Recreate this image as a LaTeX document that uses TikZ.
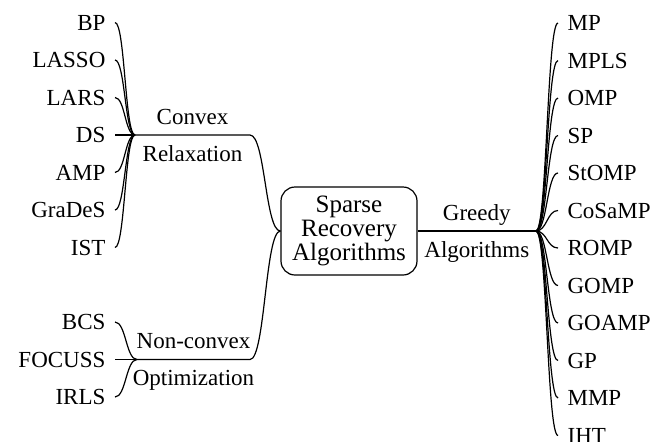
\documentclass[tikz,border=0pt]{standalone}
\usepackage{fontspec}
\setmainfont{Liberation Serif}
\usetikzlibrary{calc,positioning}

\tikzset{
  leaf/.style={inner xsep=4.5pt, inner ysep=0pt, text height=7.6pt, text depth=0pt,
    font=\fontsize{11.5}{13}\selectfont},
  branch/.style={inner sep=0pt, text height=7.8pt, text depth=0pt,
    font=\fontsize{11.5}{13}\selectfont},
  rootbox/.style={draw, rounded corners=7pt, minimum width=68pt, minimum height=44pt,
    align=center, inner sep=0pt, font=\fontsize{12.5}{11.8}\selectfont},
  hcurve/.style={to path={let \p1=(\tikztostart), \p2=(\tikztotarget) in
    .. controls ({(\x1+\x2)/2},\y1) and ({(\x1+\x2)/2},\y2) .. (\tikztotarget)}}
}

\begin{document}
\begin{tikzpicture}[x=0.5pt, y=-0.5pt, line width=0.6pt]
        \useasboundingbox (0,0) rectangle (665,441);
        %root
        \node[rootbox] (root) at (349,231) {Sparse\\Recovery\\Algorithms};
        \coordinate (cvx) at (135,135);
        \coordinate (cvxend) at (250,135);
        \coordinate (ncv) at (137,359.5);
        \coordinate (ncvend) at (250,359.5);
        \coordinate (grd) at (536,231);
        %convex relaxation
        \foreach \name [count=\i] in {BP,LASSO,LARS,DS,AMP,GraDeS,IST}
            \node[leaf, anchor=east] (cv\i) at (115,{22.5+37.5*(\i-1)}) {\name};
        \foreach \i in {1,...,7}
            \draw (cv\i.east) to[hcurve] (cvx);
        \draw (cvx) -- node[branch, above=5pt] {Convex} node[branch, below=5pt] {Relaxation} (cvxend)
            to[hcurve] (root.west);
        %non-convex optimization
        \foreach \name [count=\i] in {BCS,FOCUSS,IRLS}
            \node[leaf, anchor=east] (nc\i) at (115,{322+37.5*(\i-1)}) {\name};
        \foreach \i in {1,...,3}
            \draw (nc\i.east) to[hcurve] (ncv);
        \draw (ncv) -- node[branch, above=5pt] {Non-convex} node[branch, below=5pt] {Optimization} (ncvend)
            to[hcurve] (root.west);
        %greedy algorithms
        \draw (root.east) -- node[branch, above=5pt] {Greedy} node[branch, below=5pt] {Algorithms} (grd);
        \foreach \name [count=\i] in {MP,MPLS,OMP,SP,StOMP,CoSaMP,ROMP,GOMP,GOAMP,GP,MMP,IHT}
            \node[leaf, anchor=west] (gr\i) at (558,{23+37.5*(\i-1)}) {\name};
        \foreach \i in {1,...,12}
            \draw (grd) to[hcurve] (gr\i.west);
    \end{tikzpicture}
\end{document}
